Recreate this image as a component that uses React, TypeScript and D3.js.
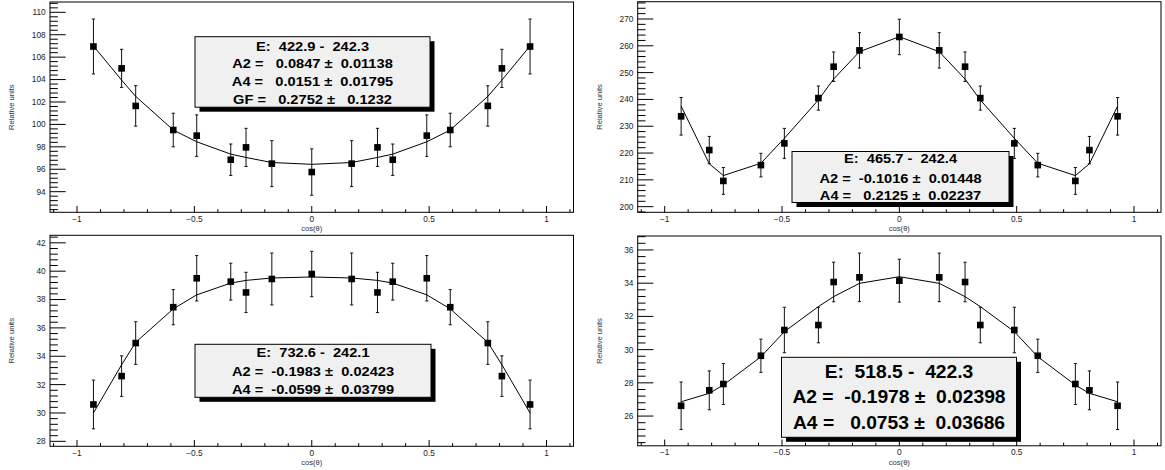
import React from 'react';
import * as d3 from 'd3';

// ---------------- data ----------------
const cosTheta = [-0.93, -0.81, -0.75, -0.59, -0.49, -0.345, -0.28, -0.17, 0, 0.17, 0.28, 0.345, 0.49, 0.59, 0.75, 0.81, 0.93];

const xTickValues = [-1, -0.5, 0, 0.5, 1];
const xTickLabels = ['\u22121', '\u22120.5', '0', '0.5', '1'];

// Panel 1: E 422.9 - 242.3
const p1Values = [106.95, 105.0, 101.65, 99.5, 99.0, 96.85, 97.95, 96.5, 95.75, 96.5, 97.95, 96.85, 99.0, 99.5, 101.65, 105.0, 106.95];
const p1Errors = [2.45, 1.7, 1.8, 1.5, 1.85, 1.4, 1.7, 2.05, 2.07, 2.05, 1.7, 1.4, 1.85, 1.5, 1.8, 1.7, 2.45];
const p1Fit = [107.0, 103.95, 102.5, 99.5, 98.45, 97.35, 97.05, 96.6, 96.44, 96.6, 97.05, 97.35, 98.45, 99.5, 102.5, 103.95, 107.0];
const p1YTicks = [94, 96, 98, 100, 102, 104, 106, 108, 110];
const p1Lines = ['E:  422.9 -  242.3', 'A2 =   0.0847 \u00b1  0.01138', 'A4 =   0.0151 \u00b1  0.01795', 'GF =   0.2752 \u00b1   0.1232'];

// Panel 2: E 465.7 - 242.4
const p2Values = [233.7, 221.1, 209.6, 215.5, 223.6, 240.5, 252.2, 258.3, 263.3, 258.3, 252.2, 240.5, 223.6, 215.5, 209.6, 221.1, 233.7];
const p2Errors = [7.0, 5.1, 5.0, 4.4, 5.6, 4.5, 5.5, 6.6, 6.6, 6.6, 5.5, 4.5, 5.6, 4.4, 5.0, 5.1, 7.0];
const p2Fit = [237.5, 216.0, 211.6, 216.2, 225.5, 239.8, 247.6, 257.8, 263.4, 257.8, 247.6, 239.8, 225.5, 216.2, 211.6, 216.0, 237.5];
const p2YTicks = [200, 210, 220, 230, 240, 250, 260, 270];
const p2Lines = ['E:  465.7 -  242.4', 'A2 =  -0.1016 \u00b1  0.01448', 'A4 =   0.2125 \u00b1  0.02237'];

// Panel 3: E 732.6 - 242.1
const p3Values = [30.6, 32.6, 34.93, 37.46, 39.5, 39.26, 38.5, 39.45, 39.8, 39.45, 38.5, 39.26, 39.5, 37.46, 34.93, 32.6, 30.6];
const p3Errors = [1.72, 1.43, 1.5, 1.24, 1.6, 1.3, 1.42, 1.83, 1.6, 1.83, 1.42, 1.3, 1.6, 1.24, 1.5, 1.43, 1.72];
const p3Fit = [30.0, 33.4, 34.98, 37.34, 38.33, 39.16, 39.35, 39.52, 39.59, 39.52, 39.35, 39.16, 38.33, 37.34, 34.98, 33.4, 30.0];
const p3YTicks = [28, 30, 32, 34, 36, 38, 40, 42];
const p3Lines = ['E:  732.6 -  242.1', 'A2 =  -0.1983 \u00b1  0.02423', 'A4 =  -0.0599 \u00b1  0.03799'];

// Panel 4: E 518.5 - 422.3
const p4Values = [26.62, 27.55, 27.93, 29.63, 31.18, 31.48, 34.07, 34.35, 34.15, 34.35, 34.07, 31.48, 31.18, 29.63, 27.93, 27.55, 26.62];
const p4Errors = [1.43, 1.17, 1.23, 1.0, 1.37, 1.07, 1.19, 1.46, 1.29, 1.46, 1.19, 1.07, 1.37, 1.0, 1.23, 1.17, 1.43];
const p4Fit = [26.86, 27.37, 27.87, 29.57, 31.08, 32.59, 33.19, 33.99, 34.39, 33.99, 33.19, 32.59, 31.08, 29.57, 27.87, 27.37, 26.86];
const p4YTicks = [26, 28, 30, 32, 34, 36];
const p4Lines = ['E:  518.5 -  422.3', 'A2 =  -0.1978 \u00b1  0.02398', 'A4 =   0.0753 \u00b1  0.03686'];

const yTitle = 'Relative units';
const xTitle = 'cos(\u03b8)';

// ---------------- layout ----------------
const FONT = '"Liberation Sans", Arial, Helvetica, sans-serif';
const X_DOMAIN: [number, number] = [-1.115, 1.115];

type Box = { x: number; y: number; w: number; h: number; baselines: number[]; fontSize: number; sx: number };
type Spec = {
  frame: { x0: number; x1: number; y0: number; y1: number };
  yDomain: [number, number];
  yMinor: number;
  yTicks: number[];
  values: number[];
  errors: number[];
  fit: number[];
  lines: string[];
  box: Box;
};

const panels: Spec[] = [
  {
    frame: { x0: 50, x1: 573.5, y0: 2, y1: 212.3 },
    yDomain: [92.16, 110.92], yMinor: 0.4, yTicks: p1YTicks,
    values: p1Values, errors: p1Errors, fit: p1Fit, lines: p1Lines,
    box: { x: 195, y: 36.7, w: 235, h: 70.5, baselines: [51, 68.3, 86, 104], fontSize: 12, sx: 1.22 },
  },
  {
    frame: { x0: 637.7, x1: 1161, y0: 1.7, y1: 212.3 },
    yDomain: [197.9, 276.45], yMinor: 2, yTicks: p2YTicks,
    values: p2Values, errors: p2Errors, fit: p2Fit, lines: p2Lines,
    box: { x: 792, y: 151.5, w: 217, h: 51, baselines: [162.5, 182.8, 199.8], fontSize: 12, sx: 1.22 },
  },
  {
    frame: { x0: 50, x1: 573.5, y0: 235.3, y1: 446.3 },
    yDomain: [27.65, 42.53], yMinor: 0.4, yTicks: p3YTicks,
    values: p3Values, errors: p3Errors, fit: p3Fit, lines: p3Lines,
    box: { x: 195, y: 344.3, w: 236, h: 53, baselines: [357.3, 375.7, 393.5], fontSize: 12, sx: 1.22 },
  },
  {
    frame: { x0: 637.7, x1: 1161, y0: 236, y1: 445.8 },
    yDomain: [24.21, 36.84], yMinor: 0.4, yTicks: p4YTicks,
    values: p4Values, errors: p4Errors, fit: p4Fit, lines: p4Lines,
    box: { x: 781.5, y: 357.3, w: 235, h: 80, baselines: [378.3, 403.3, 428.5], fontSize: 17.5, sx: 1.1 },
  },
];

function minorTicks(domain: [number, number], step: number): number[] {
  const out: number[] = [];
  const i0 = Math.ceil(domain[0] / step - 1e-9);
  const i1 = Math.floor(domain[1] / step + 1e-9);
  for (let i = i0; i <= i1; i++) out.push(+(i * step).toFixed(6));
  return out;
}

function Panel({ spec }: { spec: Spec }) {
  const { x0, x1, y0, y1 } = spec.frame;
  const xs = d3.scaleLinear().domain(X_DOMAIN).range([x0, x1]);
  const ys = d3.scaleLinear().domain(spec.yDomain).range([y1, y0]);
  const fitPath = d3.line<number>().x((_, i) => xs(cosTheta[i])).y((d) => ys(d))(spec.fit) || '';

  const yMajorLen = 0.03 * (x1 - x0);
  const xMajorLen = 0.03 * (y1 - y0);
  const yMinorTicks = minorTicks(spec.yDomain, spec.yMinor);
  const xMinorTicks = minorTicks(X_DOMAIN, 0.1);
  const isMajor = (v: number, arr: number[]) => arr.some((a) => Math.abs(a - v) < 1e-6);

  const half = 3.3;
  const cap = 1.6;
  const b = spec.box;
  const cx = b.x + b.w / 2;

  return (
    <g>
      {/* frame */}
      <rect x={x0} y={y0} width={x1 - x0} height={y1 - y0} fill="none" stroke="#000" strokeWidth={1} />
      {/* y ticks */}
      {yMinorTicks.map((v) => {
        const maj = isMajor(v, spec.yTicks);
        const y = ys(v);
        return <line key={'ym' + v} x1={x0} x2={x0 + (maj ? yMajorLen : yMajorLen / 2)} y1={y} y2={y} stroke="#000" strokeWidth={1} />;
      })}
      {spec.yTicks.map((v) => (
        <text key={'yl' + v} x={x0 - 4.3} y={ys(v)} dy="0.35em" textAnchor="end" fontSize={8.3} fontFamily={FONT} fill="#222">
          {v}
        </text>
      ))}
      {/* x ticks */}
      {xMinorTicks.map((v) => {
        const maj = isMajor(v, xTickValues);
        const x = xs(v);
        return <line key={'xm' + v} x1={x} x2={x} y1={y1} y2={y1 - (maj ? xMajorLen : xMajorLen / 2)} stroke="#000" strokeWidth={1} />;
      })}
      {xTickValues.map((v, i) => (
        <text key={'xl' + v} x={xs(v)} y={y1 + 9.6} textAnchor="middle" fontSize={8.3} fontFamily={FONT} fill="#222">
          {xTickLabels[i]}
        </text>
      ))}
      {/* titles */}
      <text x={xs(0)} y={y1 + 18.8} textAnchor="middle" fontSize={7.6} fontFamily={FONT} fill="#333">
        {xTitle}
      </text>
      <text
        transform={`translate(${x0 - 36},${(y0 + y1) / 2}) rotate(-90)`}
        textAnchor="middle"
        fontSize={7.6}
        fontFamily={FONT}
        fill="#333"
      >
        {yTitle}
      </text>
      {/* error bars */}
      {spec.values.map((v, i) => {
        const x = xs(cosTheta[i]);
        const top = ys(v + spec.errors[i]);
        const bot = ys(v - spec.errors[i]);
        return (
          <g key={'e' + i} stroke="#111" strokeWidth={1}>
            <line x1={x} x2={x} y1={top} y2={bot} />
            <line x1={x - cap} x2={x + cap} y1={top} y2={top} />
            <line x1={x - cap} x2={x + cap} y1={bot} y2={bot} />
          </g>
        );
      })}
      {/* markers */}
      {spec.values.map((v, i) => (
        <rect key={'m' + i} x={xs(cosTheta[i]) - half} y={ys(v) - half} width={half * 2} height={half * 2} fill="#000" />
      ))}
      {/* fit */}
      <path d={fitPath} fill="none" stroke="#000" strokeWidth={1} />
      {/* stat box */}
      <rect x={b.x + 4.5} y={b.y + 4.5} width={b.w} height={b.h} fill="#000" />
      <rect x={b.x} y={b.y} width={b.w} height={b.h} fill="#f0f0f0" stroke="#000" strokeWidth={1} />
      {spec.lines.map((t, i) => (
        <text
          key={'t' + i}
          transform={`translate(${cx},${b.baselines[i]}) scale(${b.sx},1)`}
          textAnchor="middle"
          fontSize={b.fontSize}
          fontWeight="bold"
          fontFamily={FONT}
          fill="#000"
          xmlSpace="preserve"
          style={{ whiteSpace: 'pre' }}
        >
          {t}
        </text>
      ))}
    </g>
  );
}

export default function App() {
  return (
    <svg
      width={1165}
      height={470}
      viewBox="0 0 1165 470"
      style={{ position: 'absolute', left: 0, top: 0, background: '#fff', display: 'block' }}
    >
      <rect x={0} y={0} width={1165} height={470} fill="#fff" />
      {panels.map((p, i) => (
        <Panel key={i} spec={p} />
      ))}
    </svg>
  );
}
